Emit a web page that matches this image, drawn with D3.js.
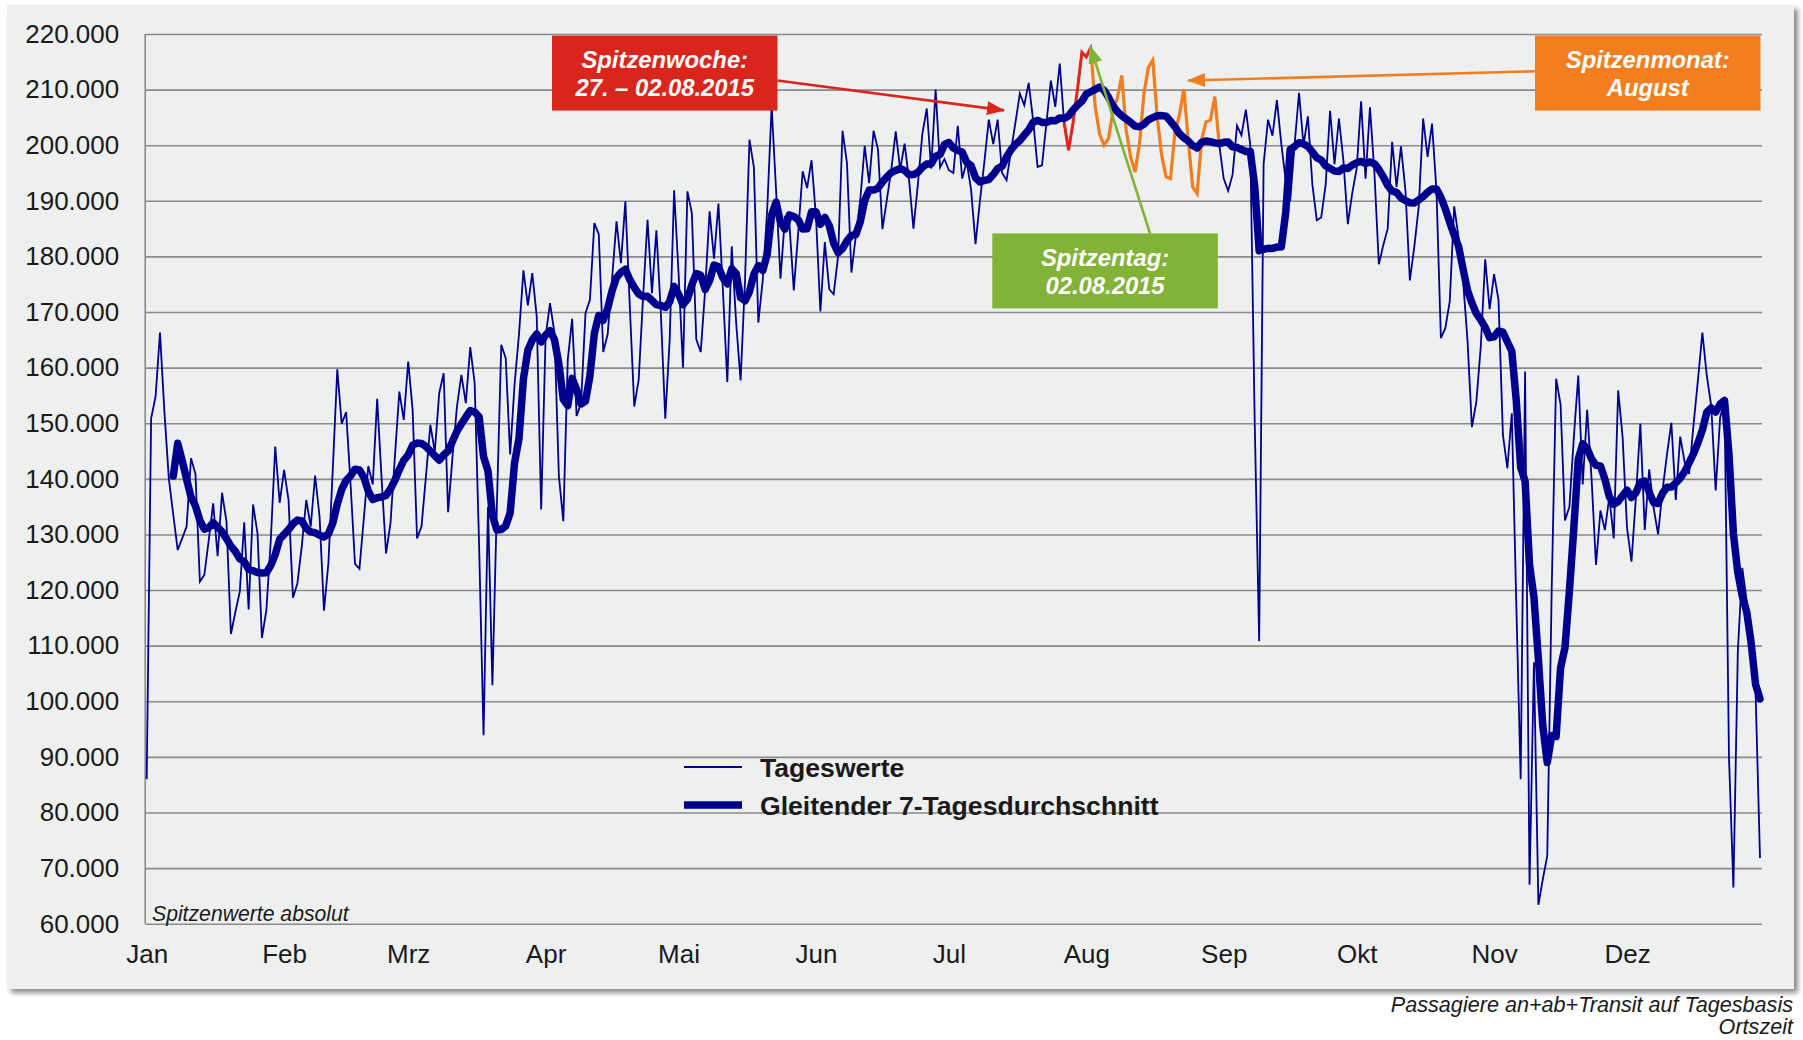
<!DOCTYPE html>
<html>
<head>
<meta charset="utf-8">
<script src="https://cdn.jsdelivr.net/npm/d3@7"></script>
<style>
	body{margin:0;background:#fff;font-family:"Liberation Sans",Arial,sans-serif;}
	svg text{fill:#1a1a1a;}
</style>
</head>
<body>
<div id="chart"></div>
<script>
// Passagiere pro Tag 2015 (Tageswerte)
const monthLabels = ["Jan","Feb","Mrz","Apr","Mai","Jun","Jul","Aug","Sep","Okt","Nov","Dez"];
const yTicks = [60000,70000,80000,90000,100000,110000,120000,130000,140000,150000,160000,170000,180000,190000,200000,210000,220000];

const jan = [86000,150900,154800,166300,152000,140000,133500,127200,129300,131400,143700,140900,121500,122700,129000,135600,126100,137500,132300,112100,116000,119700,132200,116500,135400,130200,111400,116400,129000,145800,135700];
const feb = [141600,136200,118600,121200,128000,136200,131400,140600,133200,116300,124900,142000,159700,149900,152000,139000,124700,123800,133000,142300,139000,154400,140000,126600,132000,144000,155700,150600];
const mar = [161100,152400,129300,131400,140400,149700,144900,155400,159000,134000,144000,153000,158700,153600,163700,157200,128000,93900,135000,102900,135000,164100,161700,144400,157000,166000,177500,171200,177000,169200,134500];
const apr = [165600,171600,166200,140500,132400,161400,168800,151300,153600,169800,172200,186000,184000,162800,166000,176000,186300,178800,189900,171000,153000,157800,172800,186600,173400,184700,169800,150800,165000,191900];
const may = [177000,160000,191700,187800,165100,162800,174000,188100,179600,189500,174000,157400,181800,168000,157700,175800,201000,196000,168100,175800,188400,207000,192000,176000,187000,186000,173900,184300,195300,192300,197300];
const jun = [187200,170100,182600,174100,173200,180100,202600,196800,177100,183700,190200,199900,193200,202600,199200,184900,190200,195600,202500,195600,200300,193800,185000,193000,202000,206600,195800,210000,196000,197500];
const jul = [195500,195000,203500,194000,197000,192000,182200,190000,197000,204600,200200,204600,195000,193700,199000,204000,209300,207200,211200,204500,196100,196400,204000,211600,206900,214700,204000,199100,204000,210000,216700];
const aug = [215900,217600,207000,202000,200000,201200,206000,208500,212500,202700,197900,195200,200300,209300,214000,215300,205000,198200,194300,194000,202400,205400,210100,200900,192500,191300,200900,204200,204500,208700,200000];
const sep = [194000,191800,194700,203500,201800,206400,200000,150000,110800,196600,204600,201700,208100,200200,193600,190000,200200,209400,200000,205200,193000,186500,187000,192900,206200,196600,204800,197300,185800,191400];
const oct = [195800,207900,194000,206800,195100,178600,182000,185000,200600,192500,199800,191900,175700,181700,188900,204800,197900,203900,191900,165300,167100,171900,189000,183400,175700,165000,149300,153900,163800,179500,170500];
const nov = [176800,172200,147900,141900,151800,118000,86000,159300,67000,107000,63400,68000,72200,120000,158000,153400,132500,135000,147500,158600,139000,152400,140000,124500,134300,130800,136700,129300,155900,147500];
const dec = [131200,125100,136700,149900,130800,141700,134800,130000,137900,144300,150100,136200,147600,143000,140900,149700,157800,166300,158500,153100,137900,151000,154100,90000,66500,109000,124000,118000,112000,101700,71800];

const peakWeek = [new Date(Date.UTC(2015,6,27)), new Date(Date.UTC(2015,7,2))];
const peakMonth = [new Date(Date.UTC(2015,7,2)), new Date(Date.UTC(2015,7,31))];
const windowDays = 7;

const W = 1803, H = 1040;
const plot = {left:146.7, right:1760, gridRight:1762, top:34, bottom:923.7};
const blue = '#00008f';

const dailyValues = [].concat(jan,feb,mar,apr,may,jun,jul,aug,sep,oct,nov,dec);
const dates = d3.utcDay.range(new Date(Date.UTC(2015,0,1)), new Date(Date.UTC(2016,0,1)));
const days = dates.map((d,i) => ({date:d, value:dailyValues[i]}));

// gleitender 7-Tagesdurchschnitt (nachlaufend)
const movingAvg = days.slice(windowDays-1).map((d,i) => ({
	date: d.date,
	value: d3.mean(days.slice(i, i+windowDays), e => e.value)
}));

const x = d3.scaleUtc().domain([dates[0], dates[dates.length-1]]).range([plot.left, plot.right]);
const y = d3.scaleLinear().domain([60000,220000]).range([plot.bottom, plot.top]);

const fmt = d3.formatLocale({decimal:",", thousands:".", grouping:[3], currency:["","€"]}).format(",");

const svg = d3.select('#chart').append('svg')
	.attr('width',W)
	.attr('height',H);

const defs = svg.append('defs');
defs.append('filter')
	.attr('id','shadow')
	.attr('x','-2%').attr('y','-2%').attr('width','104%').attr('height','104%')
	.append('feDropShadow')
	.attr('dx',4).attr('dy',4).attr('stdDeviation',2.5)
	.attr('flood-color','#000').attr('flood-opacity',0.45);

const colors = {red:'#d9251c', green:'#82b236', orange:'#f27e20'};
Object.entries(colors).forEach(([k,c]) => {
	defs.append('marker')
		.attr('id','arrow-'+k)
		.attr('markerUnits','userSpaceOnUse')
		.attr('markerWidth',18).attr('markerHeight',14)
		.attr('refX',17).attr('refY',7)
		.attr('orient','auto')
		.append('path')
		.attr('d','M0,0 L18,7 L0,14 Z')
		.style('fill',c);
});

svg.append('rect')
	.attr('x',7).attr('y',5)
	.attr('width',1787).attr('height',984)
	.style('fill','#eeefef')
	.attr('filter','url(#shadow)');

// y Achse mit Gitternetz
const yAxis = svg.append('g')
	.attr('class','axis y')
	.attr('transform',`translate(${plot.left-1.5},0)`)
	.call(d3.axisLeft(y).tickValues(yTicks).tickSize(-(plot.gridRight-plot.left+1.5)).tickPadding(26).tickFormat(fmt));
yAxis.select('.domain').remove();
yAxis.selectAll('line').style('stroke','#8a8a8a').style('stroke-width',1.6);
yAxis.selectAll('text').style('font-size','26px').style('fill','#1a1a1a');

svg.append('line')
	.attr('x1',plot.left-1.5).attr('x2',plot.left-1.5)
	.attr('y1',y(220000)).attr('y2',y(60000))
	.style('stroke','#8a8a8a').style('stroke-width',1.6);

// x Achse: Monate
const monthStarts = d3.utcMonth.range(dates[0], new Date(Date.UTC(2016,0,1)));
const xAxis = svg.append('g')
	.attr('class','axis x')
	.attr('transform',`translate(0,${plot.bottom})`)
	.call(d3.axisBottom(x).tickValues(monthStarts).tickSize(0).tickPadding(21).tickFormat((d,i) => monthLabels[i]));
xAxis.select('.domain').remove();
xAxis.selectAll('text').style('font-size','26px').style('fill','#1a1a1a');

const line = d3.line().x(d => x(d.date)).y(d => y(d.value));

svg.append('path')
	.datum(days)
	.attr('d',line)
	.style('fill','none').style('stroke',blue).style('stroke-width',1.8).style('stroke-linejoin','miter');

svg.append('path')
	.datum(days.filter(d => d.date >= peakWeek[0] && d.date <= peakWeek[1]))
	.attr('d',line)
	.style('fill','none').style('stroke','#e0261d').style('stroke-width',3);

svg.append('path')
	.datum(days.filter(d => d.date >= peakMonth[0] && d.date <= peakMonth[1]))
	.attr('d',line)
	.style('fill','none').style('stroke','#f47d1f').style('stroke-width',3.2);

svg.append('path')
	.datum(movingAvg)
	.attr('d',line)
	.style('fill','none').style('stroke',blue).style('stroke-width',7.5).style('stroke-linejoin','round').style('stroke-linecap','round');

// Legende
const legend = svg.append('g').attr('class','legend');
[{label:'Tageswerte', w:2, cy:767},{label:'Gleitender 7-Tagesdurchschnitt', w:7.5, cy:805}].forEach(l => {
	legend.append('line')
		.attr('x1',684).attr('x2',742).attr('y1',l.cy).attr('y2',l.cy)
		.style('stroke',blue).style('stroke-width',l.w);
	legend.append('text')
		.attr('x',760).attr('y',l.cy).attr('dy','0.36em')
		.style('font-size','26.6px').style('font-weight','bold')
		.text(l.label);
});

svg.append('text')
	.attr('x',152).attr('y',914).attr('dy','0.35em')
	.style('font-size','21.2px').style('font-style','italic')
	.text('Spitzenwerte absolut');

// Anmerkungen
const peak = days[d3.maxIndex(days, d => d.value)];
const notes = [
	{key:'red', box:[552,35.6,225.5,75], lines:['Spitzenwoche:','27. – 02.08.2015'], from:[777.5,80.5], to:[1004,110.4]},
	{key:'green', box:[992.3,233.4,225.5,75], lines:['Spitzentag:','02.08.2015'], from:[1150,233.4], to:[x(peak.date)-0.5, y(peak.value)-1]},
	{key:'orange', box:[1535,35.6,225.5,75], lines:['Spitzenmonat:','August'], from:[1535,71.3], to:[1188,80.5]}
];

notes.forEach(n => {
	const g = svg.append('g').attr('class','note '+n.key);
	g.append('rect')
		.attr('x',n.box[0]).attr('y',n.box[1])
		.attr('width',n.box[2]).attr('height',n.box[3])
		.style('fill',colors[n.key]);
	n.lines.forEach((t,i) => {
		g.append('text')
			.attr('x',n.box[0]+n.box[2]/2)
			.attr('y',n.box[1]+24+i*28.5).attr('dy','0.35em')
			.attr('text-anchor','middle')
			.style('font-size','23.8px').style('font-weight','bold').style('font-style','italic')
			.style('fill','#fff')
			.text(t);
	});
	g.append('line')
		.attr('x1',n.from[0]).attr('y1',n.from[1])
		.attr('x2',n.to[0]).attr('y2',n.to[1])
		.style('stroke',colors[n.key]).style('stroke-width',2.6)
		.attr('marker-end',`url(#arrow-${n.key})`);
});

// Fussnote
svg.append('text')
	.attr('x',1793).attr('y',1004).attr('dy','0.35em')
	.attr('text-anchor','end')
	.style('font-size','21.6px').style('font-style','italic')
	.text('Passagiere an+ab+Transit auf Tagesbasis');
svg.append('text')
	.attr('x',1793).attr('y',1026).attr('dy','0.35em')
	.attr('text-anchor','end')
	.style('font-size','21.6px').style('font-style','italic')
	.text('Ortszeit');
</script>
</body>
</html>
